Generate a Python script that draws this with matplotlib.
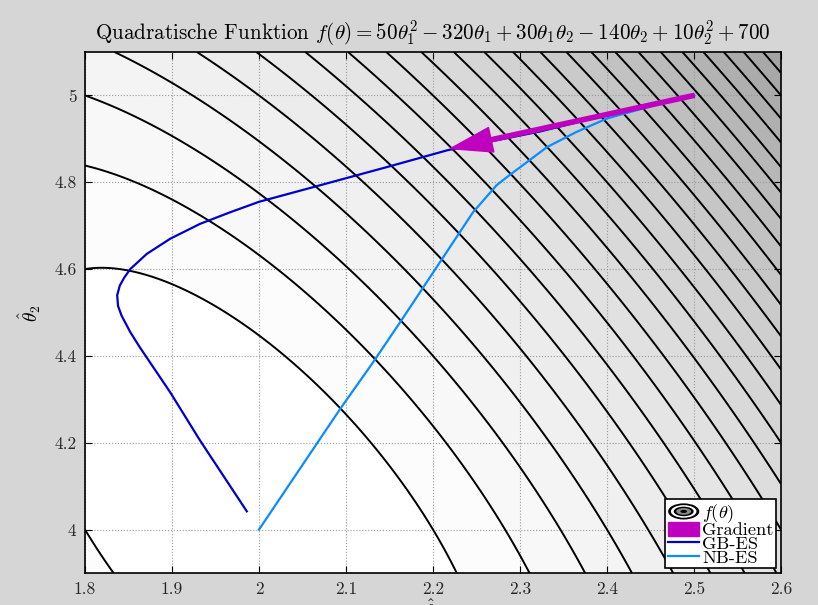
import numpy as np
import matplotlib
matplotlib.use('Agg')
import matplotlib.pyplot as plt
from matplotlib.patches import Ellipse, Patch
from matplotlib.lines import Line2D
from matplotlib.legend_handler import HandlerBase
from matplotlib.ticker import FuncFormatter

plt.rcParams['font.family'] = 'serif'
plt.rcParams['font.serif'] = ['cmr10', 'DejaVu Serif']
plt.rcParams['mathtext.fontset'] = 'cm'
plt.rcParams['axes.formatter.use_mathtext'] = True

# f(theta) = a*t1^2 + b*t1 + c*t1*t2 + d*t2 + e*t2^2 + g
coef = [50, -320, 30, -140, 10, 700]
levels = [100, 102, 104, 106, 108, 110, 112, 114, 116, 118, 120, 122, 124, 126,
          128, 130, 132, 134, 136, 138, 140, 142, 144, 146, 148, 150, 152, 154]

# start point and (negative, scaled) gradient arrow
start = [2.5, 5.0]
grad_scale = 0.0035

# gradient based ES path
gb_t1 = [2.5, 2.4, 2.323, 2.217, 2.147, 2.059, 2.0, 1.967, 1.932, 1.898, 1.871,
         1.852, 1.845, 1.840, 1.837, 1.838, 1.842, 1.847, 1.852, 1.863, 1.898,
         1.932, 1.986]
gb_t2 = [5.0, 4.955, 4.917, 4.874, 4.835, 4.787, 4.755, 4.731, 4.704, 4.670, 4.635,
         4.600, 4.580, 4.562, 4.540, 4.515, 4.493, 4.474, 4.455, 4.420, 4.316,
         4.206, 4.042]

# natural gradient ES path
nb_t1 = [2.5, 2.495, 2.469, 2.434, 2.400, 2.365, 2.331, 2.285, 2.273, 2.246,
         2.208, 2.162, 2.131, 2.093, 2.0]
nb_t2 = [5.0, 5.0, 4.985, 4.966, 4.947, 4.916, 4.881, 4.812, 4.793, 4.731,
         4.616, 4.477, 4.385, 4.277, 4.0]


def f(t1, t2):
    a, b, c, d, e, g = coef
    return a * t1**2 + b * t1 + c * t1 * t2 + d * t2 + e * t2**2 + g


def grad(t1, t2):
    a, b, c, d, e, g = coef
    return 2 * a * t1 + b + c * t2, c * t1 + d + 2 * e * t2


class ContourIcon(object):
    pass


class ContourIconHandler(HandlerBase):
    def create_artists(self, legend, orig_handle, xdescent, ydescent,
                       width, height, fontsize, trans):
        cx = width / 2 - xdescent
        cy = height / 2 - ydescent
        arts = []
        rings = [(1.0, 1.15, 'black'), (0.82, 0.9, 'white'), (0.64, 0.68, 'black'),
                 (0.48, 0.48, '#8a8a8a'), (0.22, 0.22, 'black')]
        for w, h, fc in rings:
            arts.append(Ellipse((cx, cy), width * w, height * h, facecolor=fc,
                                edgecolor='none', transform=trans))
        return arts


fig = plt.figure(figsize=(8.18, 6.05), dpi=100, facecolor='#d6d6d7')
ax = fig.add_axes([0.1039, 0.0529, 0.8509, 0.8611])

x = np.linspace(1.8, 2.6, 400)
y = np.linspace(3.9, 5.1, 400)
X, Y = np.meshgrid(x, y)
Z = f(X, Y)

ax.contourf(X, Y, Z, levels=levels, cmap='gray_r', vmin=101, vmax=235)
ax.contour(X, Y, Z, levels=levels, colors='black', linewidths=1.4)

g1, g2 = grad(start[0], start[1])
tip = [start[0] - grad_scale * g1, start[1] - grad_scale * g2]
ax.annotate('', xy=tip, xytext=start,
            arrowprops=dict(arrowstyle='simple,head_length=1.0,head_width=0.6,tail_width=0.1',
                            color='#bf00bf', shrinkA=0, shrinkB=0, mutation_scale=30))

ax.plot(gb_t1, gb_t2, color='#0000c8', lw=1.6)
ax.plot(nb_t1, nb_t2, color='#0a8cff', lw=1.6)

ax.set_xlim(1.8, 2.6)
ax.set_ylim(3.9, 5.1)
ax.set_xticks([1.8, 1.9, 2.0, 2.1, 2.2, 2.3, 2.4, 2.5, 2.6])
ax.set_yticks([4.0, 4.2, 4.4, 4.6, 4.8, 5.0])
fmt = FuncFormatter(lambda v, p: '%g' % round(v, 3))
ax.xaxis.set_major_formatter(fmt)
ax.yaxis.set_major_formatter(fmt)
ax.tick_params(direction='in', length=5, width=0.8, top=True, right=True,
               labelsize=12.5, labelcolor='#262626', pad=6)
ax.grid(True, linestyle=':', color='#9a9a9a', linewidth=0.8)
for s in ax.spines.values():
    s.set_linewidth(1.2)

ax.set_title(r'Quadratische Funktion $f(\theta) = 50\theta_1^2 - 320\theta_1 + 30\theta_1\theta_2'
             r' - 140\theta_2 + 10\theta_2^2 + 700$', fontsize=15.2, pad=9)
ax.set_xlabel(r'$\hat{\theta}_1$', fontsize=14, labelpad=0)
ax.set_ylabel(r'$\hat{\theta}_2$', fontsize=14, labelpad=8)

handles = [ContourIcon(), Patch(facecolor='#bf00bf', edgecolor='#bf00bf'),
           Line2D([], [], color='#0000c8', lw=1.6), Line2D([], [], color='#0a8cff', lw=1.6)]
labels = [r'$f(\theta)$', 'Gradient', 'GB-ES', 'NB-ES']
leg = ax.legend(handles, labels, handler_map={ContourIcon: ContourIconHandler()},
                loc='lower right', fontsize=13.2, frameon=True, fancybox=False,
                edgecolor='black', framealpha=1, borderpad=0.15, labelspacing=-0.15,
                handlelength=1.7, handleheight=0.8, handletextpad=0.15,
                borderaxespad=0.0, bbox_to_anchor=(0.993, 0.009))
leg.get_frame().set_linewidth(1.2)

fig.savefig('out.png', dpi=100, facecolor=fig.get_facecolor())
